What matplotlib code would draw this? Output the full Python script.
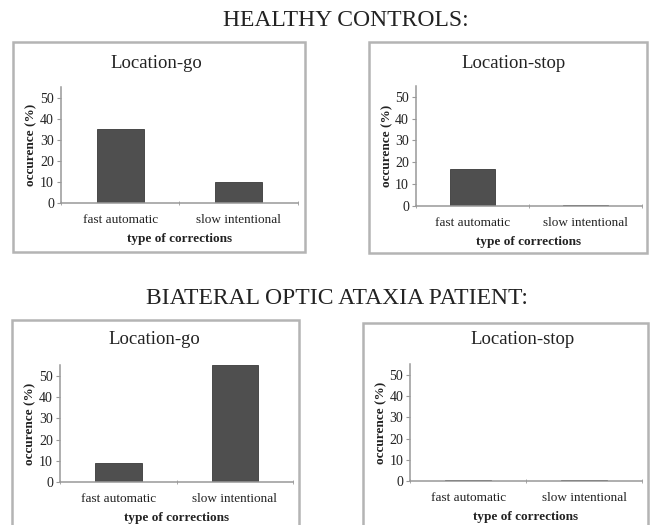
import matplotlib
matplotlib.use("Agg")
import matplotlib.pyplot as plt
from matplotlib.patches import Rectangle

plt.rcParams['font.family'] = ['Liberation Serif', 'DejaVu Serif']

categories = ["fast automatic", "slow intentional"]
ctrl_go = [35, 10]
ctrl_stop = [17, 0.3]
pat_go = [9, 55]
pat_stop = [0.3, 0.3]

yticks = [0, 10, 20, 30, 40, 50]

fig = plt.figure(figsize=(6.51, 5.25), dpi=100)

# grey frames round each panel
boxes = [
    (0.020, 0.520, 0.4485, 0.400),
    (0.567, 0.518, 0.427, 0.402),
    (0.018, -0.01, 0.442, 0.400),
    (0.558, -0.01, 0.438, 0.395),
]
for b in boxes:
    fig.patches.append(Rectangle((b[0], b[1]), b[2], b[3], transform=fig.transFigure,
                                 fill=False, edgecolor='#b4b4b4', linewidth=1.8))

panels = [
    ([0.0937, 0.6133, 0.364, 0.221], ctrl_go, "Location-go", (156, 63)),
    ([0.639, 0.6076, 0.347, 0.229], ctrl_stop, "Location-stop", (514, 63)),
    ([0.0922, 0.0819, 0.358, 0.222], pat_go, "Location-go", (154, 340)),
    ([0.630, 0.0838, 0.356, 0.222], pat_stop, "Location-stop", (523, 339)),
]

for rect, vals, title, tpos in panels:
    ax = fig.add_axes(rect)
    ax.bar([0, 1], vals, width=0.4, color='#4f4f4f', edgecolor='#3a3a3a', linewidth=0.6)
    ax.set_xlim(-0.5, 1.5)
    ax.set_ylim(0, 55)
    ax.set_yticks(yticks)
    ax.set_xticks([0, 1])
    ax.set_xticklabels(categories)
    ax.set_xticks([-0.5, 0.5, 1.5], minor=True)
    ax.tick_params(axis='x', which='major', length=0, pad=8, labelsize=9.5, colors='#222222')
    ax.tick_params(axis='x', which='minor', length=3, direction='inout', color='#999999')
    ax.tick_params(axis='y', length=3, width=0.8, pad=2, labelsize=10, color='#999999',
                   labelcolor='#222222')
    for s in ['top', 'right']:
        ax.spines[s].set_visible(False)
    for s in ['left', 'bottom']:
        ax.spines[s].set_color('#999999')
        ax.spines[s].set_linewidth(1.1)
    ax.patch.set_alpha(0)
    ax.set_xlabel("type of corrections", fontweight='bold', fontsize=9.5, color='#222222', labelpad=5)
    ax.set_ylabel("occurence (%)", fontweight='bold', fontsize=9.5, color='#222222')
    ax.yaxis.set_label_coords(-0.1, 0.5)
    fig.text(tpos[0] / 651, 1 - tpos[1] / 525, title, ha='center', va='center',
             fontsize=13.5, color='#222222')

fig.text(346 / 651, 1 - 21 / 525, "HEALTHY CONTROLS:", ha='center', va='center',
         fontsize=17, color='#222222')
fig.text(337 / 651, 1 - 299 / 525, "BIATERAL OPTIC ATAXIA PATIENT:", ha='center', va='center',
         fontsize=17, color='#222222')

fig.savefig("out.png", dpi=100)
